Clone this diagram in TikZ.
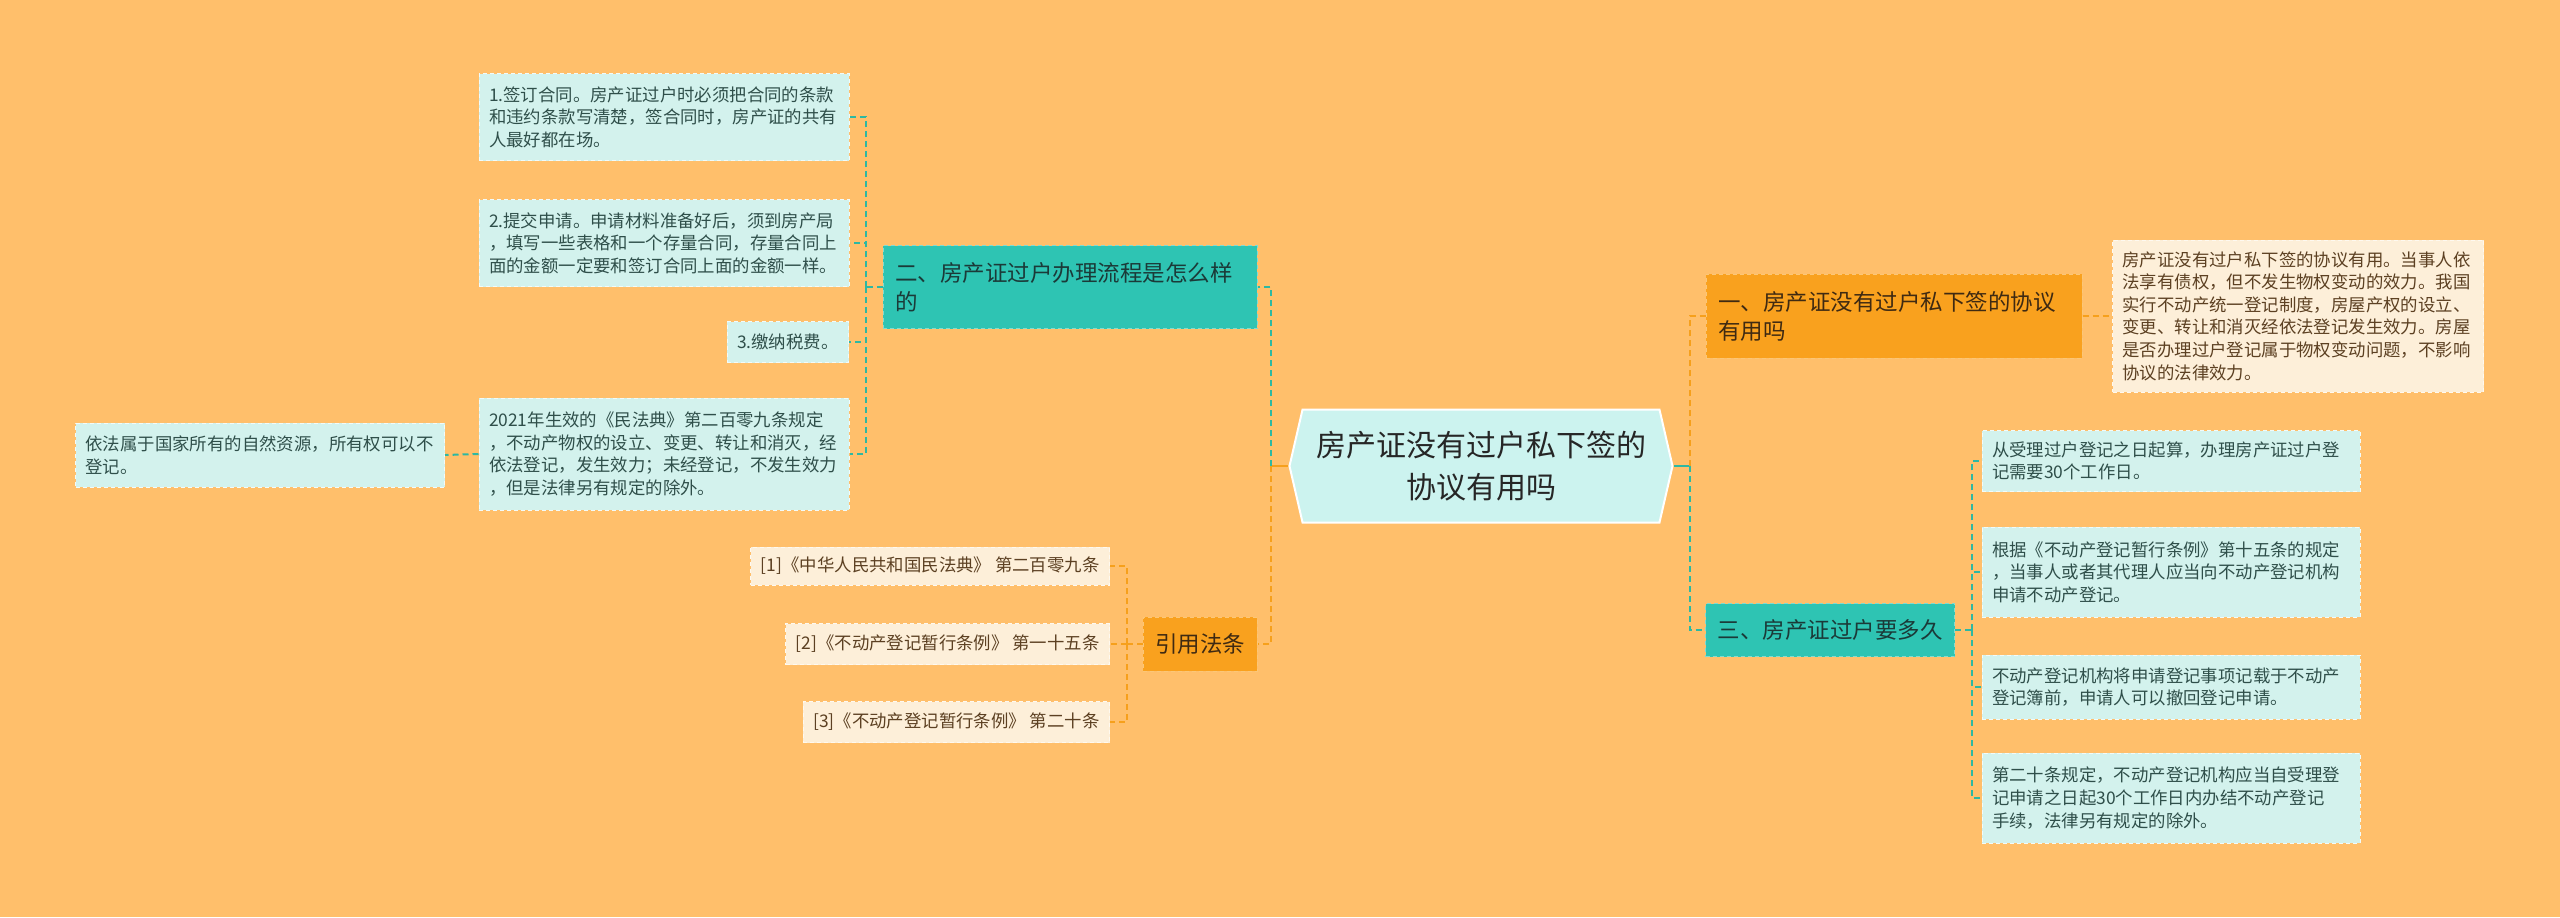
\documentclass[tikz,border=0pt]{standalone}
\usepackage{fontspec}
\setmainfont{Noto Sans CJK SC}
\usetikzlibrary{shapes.symbols,positioning}

\definecolor{bgorange}{HTML}{FFBF6B}
\definecolor{tealnode}{HTML}{2EC4B3}
\definecolor{orangenode}{HTML}{F9A11E}
\definecolor{leafcyan}{HTML}{D3F2ED}
\definecolor{cream}{HTML}{FDEFD9}
\definecolor{rootfill}{HTML}{CCF3EF}
\definecolor{tealline}{HTML}{2DB8A2}
\definecolor{orangeline}{HTML}{F6A01C}
\definecolor{leaftext}{HTML}{2F4F4A}
\definecolor{creamtext}{HTML}{5C4022}
\definecolor{tealtext}{HTML}{1B3A38}
\definecolor{orangetext}{HTML}{3F2A12}

\tikzset{
  root/.style={signal, signal to=west and east, signal pointer angle=154,
    minimum width=191.5pt, minimum height=56.5pt, inner sep=0pt,
    fill=rootfill, draw=white, line width=1pt, align=center, text=black!85,
    font=\fontsize{15pt}{21pt}\selectfont},
  mid/.style={inner xsep=6pt, inner ysep=0pt, align=left,
    dash pattern=on 2pt off 1.5pt, line width=0.5pt,
    font=\fontsize{11.25pt}{14.5pt}\selectfont},
  midteal/.style={mid, fill=tealnode, draw=tealnode!60!white, text=tealtext},
  midorange/.style={mid, fill=orangenode, draw=orangenode!60!white, text=orangetext},
  box/.style={inner xsep=5pt, inner ysep=0pt, align=left,
    dash pattern=on 2pt off 1.5pt, line width=0.5pt,
    font=\fontsize{8.7pt}{11.3pt}\selectfont},
  leaf/.style={box, fill=leafcyan, draw=white!70!leafcyan, text=leaftext},
  note/.style={box, fill=cream, draw=white!60!cream, text=creamtext},
  link/.style={line width=1pt, dash pattern=on 3pt off 2pt},
  stub/.style={line width=1.2pt}
}

\begin{document}
\begin{tikzpicture}[x=0.5pt,y=-0.5pt]
\useasboundingbox[fill=bgorange] (0,0) rectangle (2560,917);

\node[root] (root) at (1481,466) {房产证没有过户私下签的\\协议有用吗};

% branches
\node[midteal, text width=175pt, minimum height=41.5pt] (proc) at (1070,287)
  {二、房产证过户办理流程是怎么样\\的};
\node[midorange, minimum height=27pt] (cite) at (1200,644) {引用法条};
\node[midorange, text width=176pt, minimum height=42pt] (one) at (1894,316)
  {一、房产证没有过户私下签的协议\\有用吗};
\node[midteal, minimum height=26.5pt] (three) at (1830,630) {三、房产证过户要多久};

% left leaves
\node[leaf, text width=175pt, minimum height=43.5pt] (p1) at (664,117)
  {1.签订合同。房产证过户时必须把合同的条款\\和违约条款写清楚，签合同时，房产证的共有\\人最好都在场。};
\node[leaf, text width=175pt, minimum height=43.5pt] (p2) at (664,243)
  {2.提交申请。申请材料准备好后，须到房产局\\，填写一些表格和一个存量合同，存量合同上\\面的金额一定要和签订合同上面的金额一样。};
\node[leaf, minimum height=20.5pt, anchor=east] (p3) at (849,342) {3.缴纳税费。};
\node[leaf, text width=175pt, minimum height=56pt] (p4) at (664,454)
  {2021年生效的《民法典》第二百零九条规定\\，不动产物权的设立、变更、转让和消灭，经\\依法登记，发生效力；未经登记，不发生效力\\，但是法律另有规定的除外。};
\node[leaf, text width=174.5pt, minimum height=32pt] (p5) at (260,455)
  {依法属于国家所有的自然资源，所有权可以不\\登记。};

\node[note, minimum height=19pt, anchor=east] (c1) at (1110,566)
  {[1]《中华人民共和国民法典》 第二百零九条};
\node[note, minimum height=20.5pt, anchor=east] (c2) at (1110,644)
  {[2]《不动产登记暂行条例》 第一十五条};
\node[note, minimum height=20.5pt, anchor=east] (c3) at (1110,722)
  {[3]《不动产登记暂行条例》 第二十条};

% right leaves
\node[note, text width=175.5pt, minimum height=76pt] (desc) at (2298,316)
  {房产证没有过户私下签的协议有用。当事人依\\法享有债权，但不发生物权变动的效力。我国\\实行不动产统一登记制度，房屋产权的设立、\\变更、转让和消灭经依法登记发生效力。房屋\\是否办理过户登记属于物权变动问题，不影响\\协议的法律效力。};
\node[leaf, text width=179pt, minimum height=30.5pt] (t1) at (2171,461)
  {从受理过户登记之日起算，办理房产证过户登\\记需要30个工作日。};
\node[leaf, text width=179pt, minimum height=45pt] (t2) at (2171,572)
  {根据《不动产登记暂行条例》第十五条的规定\\，当事人或者其代理人应当向不动产登记机构\\申请不动产登记。};
\node[leaf, text width=179pt, minimum height=32pt] (t3) at (2171,687)
  {不动产登记机构将申请登记事项记载于不动产\\登记簿前，申请人可以撤回登记申请。};
\node[leaf, text width=179pt, minimum height=45pt] (t4) at (2171,798)
  {第二十条规定，不动产登记机构应当自受理登\\记申请之日起30个工作日内办结不动产登记\\手续，法律另有规定的除外。};

% joints
\coordinate (lj) at ([xshift=-8.5pt]root.west);
\coordinate (rj) at ([xshift=8pt]root.east);
\coordinate (pj) at ([xshift=-8.5pt]proc.west);
\coordinate (cj) at ([xshift=-8pt]cite.west);
\coordinate (tj) at ([xshift=8.5pt]three.east);

\draw[stub, orangeline] (root.west) -- (lj);
\draw[link, tealline] (lj) |- (proc.east);
\draw[link, orangeline] (lj) |- (cite.east);
\draw[stub, tealline] (root.east) -- (rj);
\draw[link, orangeline] (rj) |- (one.west);
\draw[link, tealline] (rj) |- (three.west);
\draw[link, orangeline] (one.east) -- (desc.west);

\draw[link, tealline] (proc.west) -- (pj);
\foreach \n in {p1,p2,p3,p4} \draw[link, tealline] (pj) |- (\n.east);
\draw[link, tealline] (p4.west) -- (p5.east);

\draw[link, orangeline] (cite.west) -- (cj);
\foreach \n in {c1,c2,c3} \draw[link, orangeline] (cj) |- (\n.east);

\draw[link, tealline] (three.east) -- (tj);
\foreach \n in {t1,t2,t3,t4} \draw[link, tealline] (tj) |- (\n.west);
\end{tikzpicture}
\end{document}
